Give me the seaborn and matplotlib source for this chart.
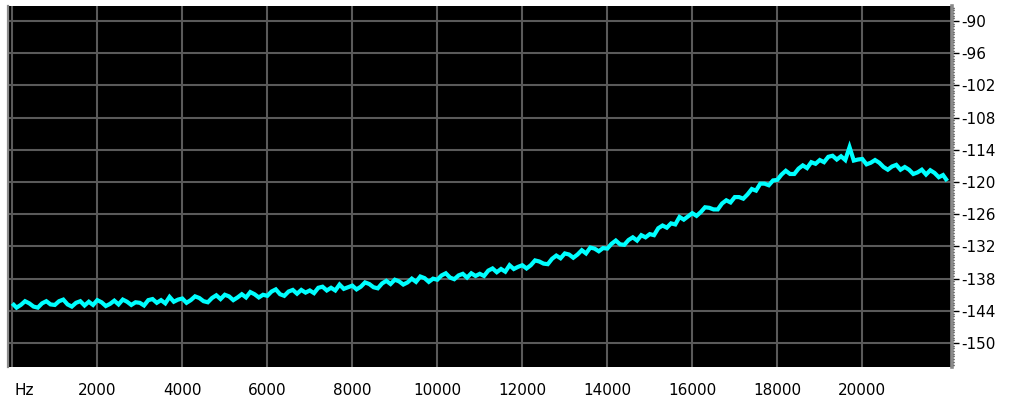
import numpy as np
import pandas as pd
import matplotlib
matplotlib.use("Agg")
import matplotlib.pyplot as plt
import matplotlib.ticker as mticker
import matplotlib.transforms as mtransforms
import seaborn as sns

# Spectrum bins, 100 Hz apart, 0 .. 22000 Hz
freq_hz = np.arange(0, 22001, 100)

# Level in dB per bin, one row per kHz
level_db = [
    -142.6, -143.4, -142.9, -142.2, -142.6, -143.2, -143.4, -142.6, -142.2, -142.8,
    -142.9, -142.2, -141.9, -142.8, -143.2, -142.5, -142.2, -143.0, -142.3, -142.9,
    -142.0, -142.4, -143.1, -142.7, -142.1, -142.8, -141.9, -142.3, -142.9, -142.4,
    -142.5, -143.0, -142.0, -141.8, -142.5, -142.0, -142.6, -141.4, -142.3, -141.9,
    -141.7, -142.5, -142.0, -141.3, -141.6, -142.2, -142.4, -141.6, -141.1, -141.8,
    -141.0, -141.3, -142.0, -141.5, -140.9, -141.5, -140.5, -140.9, -141.5, -141.0,
    -141.2, -140.4, -140.0, -140.9, -141.2, -140.4, -140.1, -140.8, -140.1, -140.6,
    -140.2, -140.7, -139.7, -139.5, -140.2, -139.7, -140.2, -139.1, -139.9, -139.6,
    -139.3, -140.0, -139.5, -138.7, -139.0, -139.6, -139.8, -138.9, -138.4, -139.0,
    -138.2, -138.5, -139.1, -138.7, -138.0, -138.6, -137.6, -137.9, -138.6, -138.0,
    -138.2, -137.4, -137.0, -137.8, -138.1, -137.4, -137.1, -137.8, -137.0, -137.5,
    -137.1, -137.5, -136.5, -136.1, -136.8, -136.2, -136.7, -135.5, -136.2, -135.8,
    -135.5, -136.1, -135.5, -134.6, -134.8, -135.2, -135.3, -134.3, -133.7, -134.2,
    -133.3, -133.5, -134.1, -133.5, -132.7, -133.3, -132.2, -132.4, -132.9, -132.3,
    -132.4, -131.5, -130.9, -131.6, -131.7, -130.8, -130.3, -130.9, -129.9, -130.3,
    -129.7, -129.9, -128.6, -128.1, -128.5, -127.7, -127.9, -126.5, -127.0, -126.4,
    -125.8, -126.3, -125.6, -124.7, -124.8, -125.1, -125.1, -124.0, -123.4, -123.8,
    -122.8, -122.8, -123.1, -122.3, -121.3, -121.6, -120.3, -120.3, -120.6, -119.7,
    -119.6, -118.6, -117.9, -118.5, -118.5, -117.5, -116.9, -117.4, -116.3, -116.6,
    -115.9, -116.3, -115.3, -115.1, -115.8, -115.2, -115.9, -113.5, -116.0, -115.8,
    -115.7, -116.7, -116.4, -115.9, -116.4, -117.2, -117.7, -117.1, -116.8, -117.7,
    -117.2, -117.7, -118.5, -118.2, -117.7, -118.6, -117.8, -118.3, -119.1, -118.7,
    -119.8,
]

# Axis ticks
x_major = [0, 2000, 4000, 6000, 8000, 10000, 12000, 14000, 16000, 18000, 20000, 22050]
x_labels = ["Hz", "2000", "4000", "6000", "8000", "10000", "12000", "14000",
            "16000", "18000", "20000", ""]
x_minor = [1000, 3000, 5000, 7000, 9000, 11000, 13000, 15000, 17000, 19000, 21000]
y_major = [-90, -96, -102, -108, -114, -120, -126, -132, -138, -144, -150]

df = pd.DataFrame({"freq": freq_hz, "level": level_db})

sns.set_style("dark")
plt.rcParams["font.family"] = ["DejaVu Sans"]

W, H, DPI = 1016, 405, 100
fig = plt.figure(figsize=(W / DPI, H / DPI), dpi=DPI, facecolor="white")
ax = fig.add_axes([8 / W, 1 - 367 / H, (952 - 8) / W, (367 - 6) / H])
ax.set_facecolor("black")

sns.lineplot(data=df, x="freq", y="level", ax=ax, color="#00ffff",
             linewidth=3.0, estimator=None, zorder=3,
             solid_joinstyle="miter", solid_capstyle="butt")

ax.set_xlim(-101, 22111)
ax.set_ylim(-154.46, -87.2)

# grid
for xv in x_major[:-1]:
    ax.axvline(xv, color="#5a5a5a", linewidth=1.5, zorder=1)
for yv in y_major:
    ax.axhline(yv, color="#5a5a5a", linewidth=1.5, zorder=1)
ax.grid(False)

# frame: grey left/right borders only
for s in ("top", "bottom"):
    ax.spines[s].set_visible(False)
ax.spines["left"].set_color("#8a8a8a")
ax.spines["left"].set_linewidth(1.6)
ax.spines["right"].set_color("#8a8a8a")
ax.spines["right"].set_linewidth(2.6)
ax.spines["bottom"].set_position(("outward", 3))

# x axis ticks
ax.set_xticks(x_major)
ax.set_xticklabels(x_labels)
ax.xaxis.set_minor_locator(mticker.FixedLocator(x_minor))
ax.tick_params(axis="x", which="major", direction="out", length=6, width=1,
               color="black", labelsize=11, labelcolor="black", pad=2.5)
ax.tick_params(axis="x", which="minor", direction="out", length=2.5, width=1,
               color="black")
hz = ax.get_xticklabels()[0]
hz.set_horizontalalignment("left")
hz.set_transform(hz.get_transform() +
                 mtransforms.ScaledTranslation(2 / DPI, 0, fig.dpi_scale_trans))

# y axis on the right
ax.yaxis.tick_right()
ax.set_yticks(y_major)
ax.set_yticklabels([str(v) for v in y_major])
ax.yaxis.set_minor_locator(mticker.MultipleLocator(0.5))
ax.tick_params(axis="y", which="major", direction="out", length=5, width=1,
               color="black", labelsize=11, labelcolor="black", pad=2,
               left=False, right=True)
ax.tick_params(axis="y", which="minor", direction="out", length=1.5, width=1,
               color="black", left=False, right=True)

ax.set_xlabel("")
ax.set_ylabel("")

fig.savefig("out.png", dpi=DPI, facecolor="white")
